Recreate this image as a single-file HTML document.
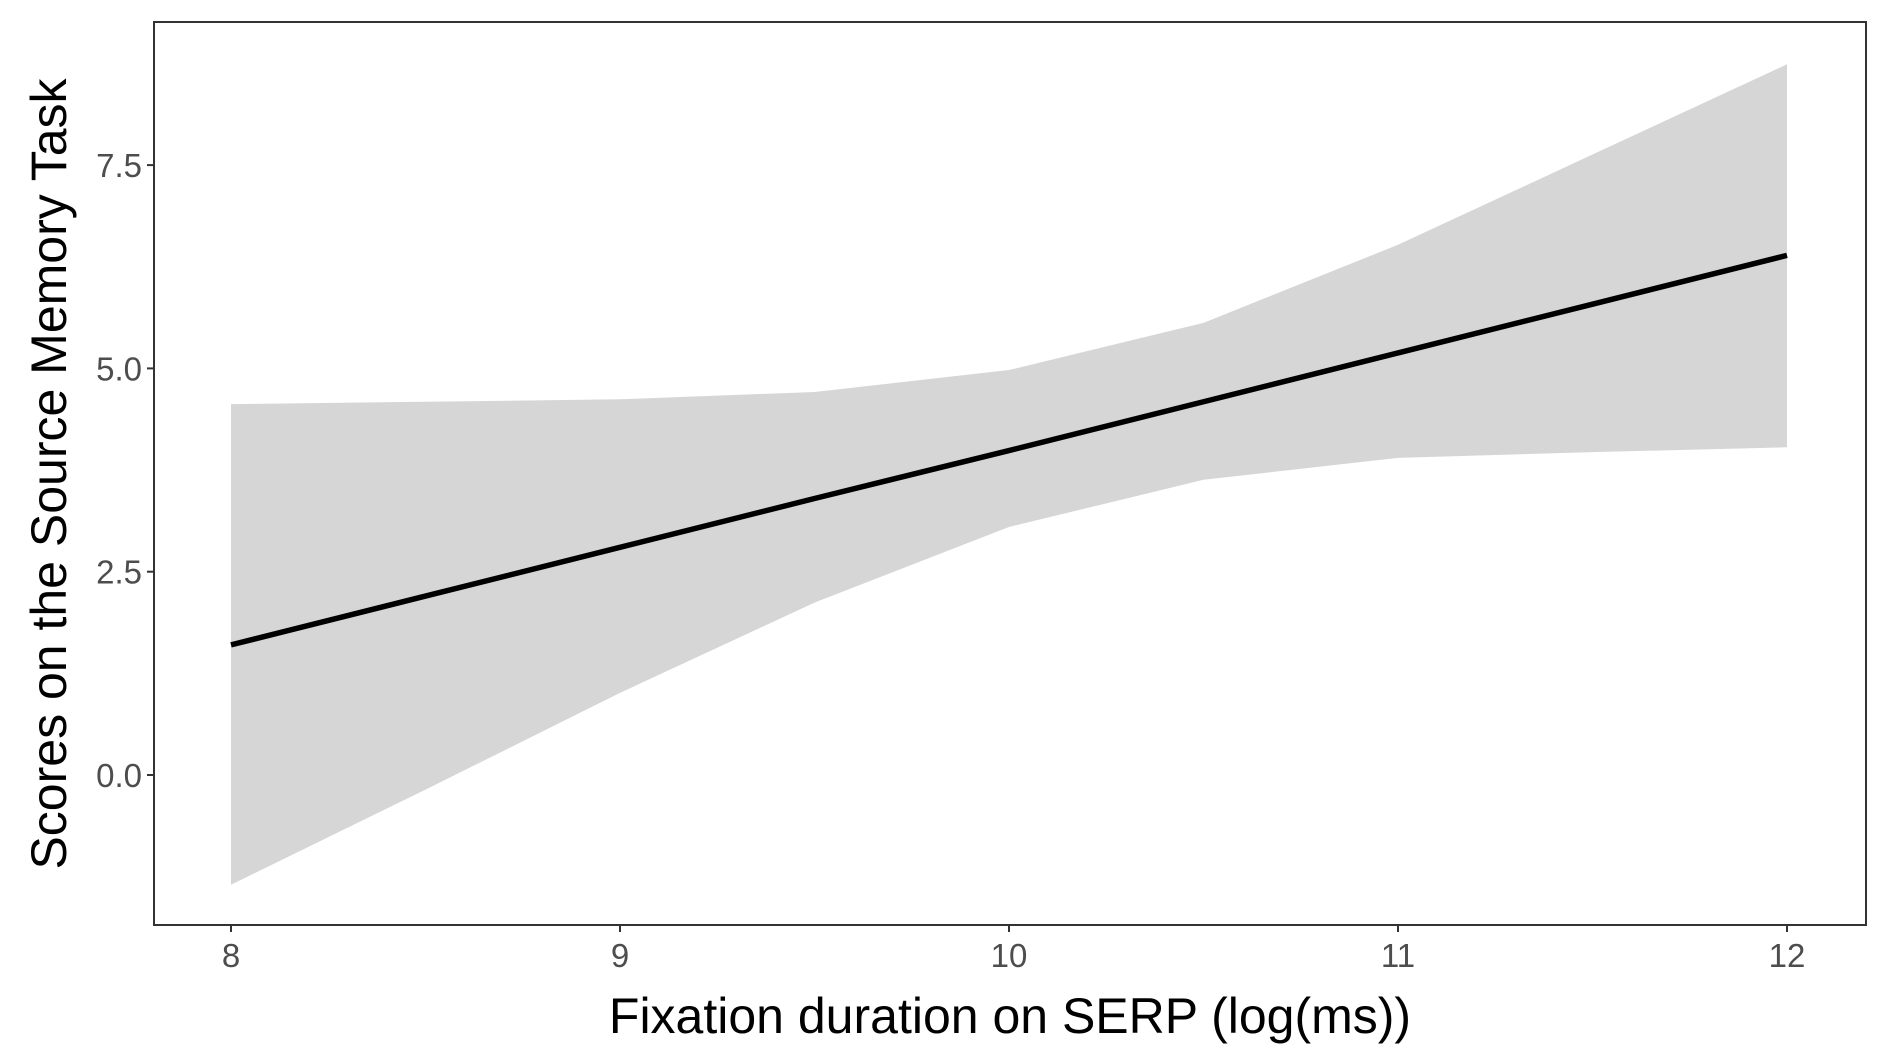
<!DOCTYPE html>
<html><head><meta charset="utf-8"><style>
html,body{margin:0;padding:0;background:#fff;}
svg{display:block;font-family:"Liberation Sans",Arial,sans-serif;}
</style></head><body>
<svg id="chart" width="1889" height="1062" viewBox="0 0 1889 1062" xmlns="http://www.w3.org/2000/svg">
<rect x="0" y="0" width="1889" height="1062" fill="#fff"/>
<g id="plot"></g>
</svg>
<script>
const xs = [8, 8.5, 9, 9.5, 10, 10.5, 11, 11.5, 12];
const fitValues = [1.60, 2.20, 2.80, 3.40, 3.99, 4.59, 5.19, 5.79, 6.39];
const upperValues = [4.56, 4.59, 4.62, 4.71, 4.98, 5.56, 6.52, 7.63, 8.74];
const lowerValues = [-1.35, -0.18, 1.01, 2.12, 3.05, 3.63, 3.90, 3.97, 4.03];
const xTicks = [8, 9, 10, 11, 12];
const xTickLabels = ["8", "9", "10", "11", "12"];
const yTicks = [0, 2.5, 5, 7.5];
const yTickLabels = ["0.0", "2.5", "5.0", "7.5"];

const NS = "http://www.w3.org/2000/svg";
const L = 154, R = 1866, T = 22, B = 925;
function sx(v){ return 231 + (v - 8) * (1787 - 231) / 4; }
function sy(v){ return 775 - v * (203.3 / 2.5); }
const g = document.getElementById('plot');
function mk(tag, attrs){ const e = document.createElementNS(NS, tag); for (const k in attrs) e.setAttribute(k, attrs[k]); return e; }

let pts = xs.map((x,i)=>sx(x)+','+sy(upperValues[i]));
for (let i = xs.length-1; i >= 0; i--) pts.push(sx(xs[i])+','+sy(lowerValues[i]));
const band = mk('polygon', {points: pts.join(' '), fill:'#d6d6d6'});


g.appendChild(band);

const line = mk('polyline', {points: xs.map((x,i)=>sx(x)+','+sy(fitValues[i])).join(' '), fill:'none', stroke:'#000', 'stroke-width':5.5});


g.appendChild(line);

const frame = mk('rect', {x:L, y:T, width:R-L, height:B-T, fill:'none', stroke:'#333', 'stroke-width':2});


g.appendChild(frame);

xTicks.forEach((t,i)=>{
  const tk = mk('line', {x1:sx(t), x2:sx(t), y1:B, y2:B+7, stroke:'#333', 'stroke-width':2});
  
  
  g.appendChild(tk);
  const tx = mk('text', {x:sx(t), y:B+42, 'text-anchor':'middle', 'font-size':33, fill:'#4d4d4d'});
  tx.textContent = xTickLabels[i];
  
  
  g.appendChild(tx);
});
yTicks.forEach((t,i)=>{
  const tk = mk('line', {x1:L-7, x2:L, y1:sy(t), y2:sy(t), stroke:'#333', 'stroke-width':2});
  
  
  g.appendChild(tk);
  const tx = mk('text', {x:L-12, y:sy(t)+12, 'text-anchor':'end', 'font-size':33, fill:'#4d4d4d'});
  tx.textContent = yTickLabels[i];
  
  
  g.appendChild(tx);
});
const xt = mk('text', {x:(L+R)/2, y:1033, 'text-anchor':'middle', 'font-size':50, fill:'#000'});
xt.textContent = 'Fixation duration on SERP (log(ms))';


g.appendChild(xt);
const yt = mk('text', {x:0, y:0, 'text-anchor':'middle', 'font-size':50, fill:'#000', transform:'translate(66,474) rotate(-90)'});
yt.textContent = 'Scores on the Source Memory Task';


g.appendChild(yt);
</script>
</body></html>
